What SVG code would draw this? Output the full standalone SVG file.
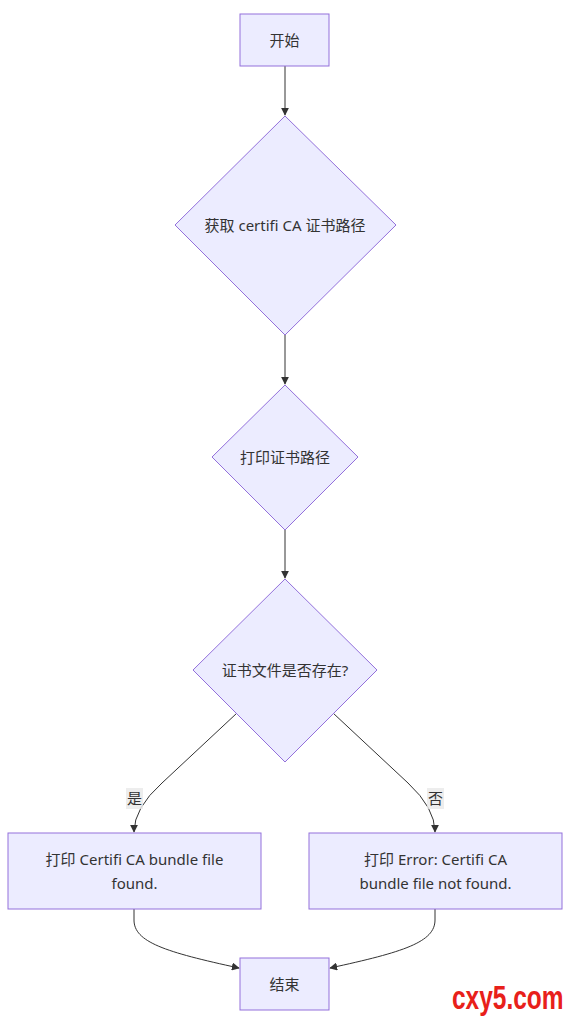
<svg xmlns="http://www.w3.org/2000/svg" width="570" height="1025" viewBox="0 0 570 1025">
<style>
.node rect, .node polygon { fill: #ECECFF; stroke: #9370DB; stroke-width: 1; }
.node text { font-family: "Noto Sans", "Noto Sans CJK SC", sans-serif; font-size: 15px; fill: #333; text-anchor: middle; dominant-baseline: central; }
.edges path { fill: none; stroke: #333; stroke-width: 1; marker-end: url(#arrow); }
.elabel rect { fill: #E8E8E8; opacity: 0.8; }
.elabel text { font-family: "Noto Sans", "Noto Sans CJK SC", sans-serif; font-size: 15px; fill: #333; text-anchor: middle; dominant-baseline: central; }
.wm { font-family: "Liberation Sans", sans-serif; font-weight: bold; font-size: 34px; fill: #E8201A; }
</style>
<defs>
<marker id="arrow" viewBox="0 0 10 10" refX="9" refY="5" markerWidth="8" markerHeight="8" markerUnits="userSpaceOnUse" orient="auto">
<path d="M0,0 L10,5 L0,10 z" fill="#333"/>
</marker>
</defs>
<g class="edges" id="connectors">
<path d="M285,66 L285,115"/>
<path d="M285,335 L285,384"/>
<path d="M285,530 L285,578"/>
<path d="M237,713 L162,783 Q134,808 134,832"/>
<path d="M333,713 L408,783 Q435,808 435,832"/>
<path d="M134,909 L134,920 C134,942 165,952 239,968"/>
<path d="M435,909 L435,920 C435,942 404,952 330,968"/>
</g>
<g class="elabel" id="label-yes">
<rect x="126" y="788" width="17" height="21"/>
<text x="134.5" y="798">是</text>
</g>
<g class="elabel" id="label-no">
<rect x="427" y="788" width="17" height="21"/>
<text x="435.5" y="798">否</text>
</g>
<g class="node" id="start">
<rect x="240" y="14" width="89" height="52"/>
<text x="284.5" y="40">开始</text>
</g>
<g class="node" id="getpath">
<polygon points="285,116 396,225 285,335 175,225"/>
<text x="285" y="225">获取 certifi CA 证书路径</text>
</g>
<g class="node" id="printpath">
<polygon points="285,385 358,457 285,530 212,457"/>
<text x="285" y="457">打印证书路径</text>
</g>
<g class="node" id="exists">
<polygon points="285,579 377,670 285,762 193,670"/>
<text x="285" y="670">证书文件是否存在?</text>
</g>
<g class="node" id="found">
<rect x="8" y="833" width="253" height="76"/>
<text x="134.5" y="859">打印 Certifi CA bundle file</text>
<text x="134.5" y="883">found.</text>
</g>
<g class="node" id="notfound">
<rect x="309" y="833" width="253" height="76"/>
<text x="435.5" y="859">打印 Error: Certifi CA</text>
<text x="435.5" y="883">bundle file not found.</text>
</g>
<g class="node" id="end">
<rect x="240" y="958" width="89" height="52"/>
<text x="284.5" y="984">结束</text>
</g>
<g id="watermark" transform="translate(452,1009) scale(0.72,1)">
<text class="wm" x="0" y="0">cxy5.com</text>
</g>
</svg>
